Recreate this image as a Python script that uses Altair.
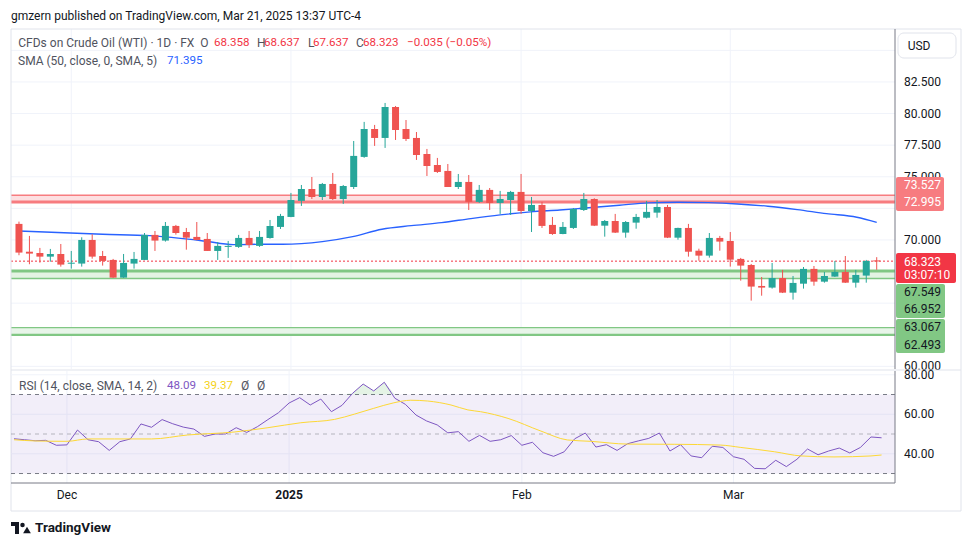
import altair as alt
import pandas as pd

FONT = "Roboto"
GRID = "#f0f3fa"
UP = "#26a69a"
DOWN = "#ef5350"
AXIS_LINE = "#787b86"
TXT = "#131722"

# ---------------- data ----------------
opens = [71.27, 69.07, 68.97, 68.68, 68.89, 68.12, 68.13, 70.00, 68.73, 68.42,
         67.02, 68.13, 68.42, 70.40, 69.95, 71.11, 70.63, 70.24, 70.08, 69.13,
         69.45, 69.45, 70.16, 69.53, 70.16, 71.03, 71.82, 73.09, 74.03, 73.40,
         74.43, 73.24, 74.19, 76.57, 78.78, 78.07, 80.52, 78.78, 78.07, 76.80,
         75.93, 75.46, 74.19, 74.59, 73.01, 73.96, 72.93, 73.16, 73.80, 72.29,
         72.77, 71.19, 70.47, 70.95, 72.37, 73.24, 71.13, 71.50, 70.58, 71.37,
         71.76, 72.16, 72.61, 70.18, 70.95, 69.15, 68.76, 70.16, 69.92, 68.50,
         68.02, 66.36, 66.23, 66.99, 65.83, 66.54, 67.71, 66.70, 67.10, 67.47,
         66.62, 67.18, 68.358]
highs = [71.45, 70.32, 69.37, 69.29, 69.68, 69.13, 70.21, 70.45, 69.13, 68.50,
         68.89, 69.05, 70.55, 70.71, 71.42, 71.19, 70.95, 71.42, 70.55, 69.84,
         69.92, 70.40, 70.71, 70.71, 71.58, 72.06, 73.72, 74.35, 74.98, 74.51,
         75.30, 74.35, 77.83, 79.34, 79.10, 80.84, 80.60, 79.49, 78.54, 77.20,
         76.49, 76.01, 75.22, 75.14, 74.35, 74.11, 73.88, 73.88, 75.22, 73.40,
         73.01, 71.82, 71.42, 72.53, 73.72, 73.30, 71.58, 72.06, 71.50, 72.06,
         73.09, 73.16, 72.77, 70.97, 71.27, 69.31, 70.55, 70.32, 70.63, 68.58,
         68.10, 67.07, 68.18, 67.63, 67.15, 67.86, 67.94, 67.47, 68.34, 68.73,
         67.63, 68.42, 68.637]
lows = [68.79, 68.08, 68.20, 68.28, 67.89, 67.73, 67.89, 68.52, 67.97, 67.00,
        67.00, 67.73, 68.40, 69.13, 69.87, 70.42, 69.23, 69.97, 69.13, 68.42,
        68.58, 69.37, 69.37, 69.45, 70.10, 70.87, 71.80, 72.69, 73.24, 73.16,
        73.16, 72.85, 74.03, 76.50, 77.44, 77.28, 77.91, 77.83, 76.33, 75.06,
        75.30, 74.19, 74.03, 72.37, 72.93, 72.37, 72.06, 71.98, 72.06, 70.63,
        70.95, 70.40, 70.45, 70.87, 72.29, 71.10, 70.26, 70.55, 70.18, 70.89,
        71.70, 71.76, 70.15, 70.02, 68.68, 68.36, 68.60, 69.15, 67.89, 66.78,
        65.20, 65.59, 66.15, 65.80, 65.28, 66.15, 66.38, 66.62, 67.07, 66.60,
        66.23, 66.62, 67.637]
closes = [69.00, 68.92, 68.68, 68.89, 68.05, 68.20, 70.00, 68.68, 68.34, 67.02,
          68.18, 68.50, 70.40, 69.95, 71.11, 70.55, 70.18, 70.00, 69.13, 69.53,
          69.53, 70.16, 69.60, 70.24, 71.11, 71.90, 73.16, 74.03, 73.40, 74.43,
          73.24, 74.27, 76.65, 78.78, 78.07, 80.52, 78.70, 77.99, 76.72, 75.85,
          75.38, 74.19, 74.59, 73.01, 73.96, 72.93, 73.24, 73.80, 72.29, 72.77,
          71.11, 70.47, 71.03, 72.45, 73.24, 71.13, 71.50, 70.58, 71.42, 71.82,
          72.22, 72.61, 70.18, 70.95, 69.07, 68.76, 70.16, 69.87, 68.44, 67.97,
          66.31, 66.23, 66.99, 65.83, 66.60, 67.71, 66.70, 67.15, 67.47, 66.62,
          67.23, 68.34, 68.323]

x_ticks = [5, 26, 48, 68]
x_labels = ["Dec", "2025", "Feb", "Mar"]
x_bold = [False, True, False, False]
price_grid = [60.0, 62.5, 65.0, 67.5, 70.0, 72.5, 75.0, 77.5, 80.0, 82.5, 85.0]
price_labels = [60.0, 70.0, 75.0, 77.5, 80.0, 82.5]   # the others are hidden behind price tags
rsi_ticks = [40, 60, 80]

sma_idx = [0, 8, 12.5, 17.7, 20.5, 23.3, 25.2, 29, 31.9, 34.7, 37.5, 40.4, 43.2,
           46, 48.9, 51.7, 53.6, 57.4, 60.2, 63, 65.9, 68.7, 71.6, 74.4, 77.2, 80.1, 82]
sma_val = [70.71, 70.45, 70.34, 69.92, 69.63, 69.66, 69.66, 69.87, 70.26, 70.85, 71.13,
           71.37, 71.69, 71.98, 72.22, 72.37, 72.49, 72.75, 72.93, 72.98, 72.95, 72.85,
           72.67, 72.40, 72.08, 71.80, 71.395]

rsi_val = [47.6, 47.1, 46.6, 46.8, 44.3, 44.5, 52.0, 47.1, 46.1, 41.7,
           46.1, 47.5, 55.1, 53.4, 57.3, 55.2, 53.5, 52.5, 48.8, 50.0,
           50.0, 53.2, 50.8, 53.7, 57.3, 60.8, 65.7, 68.4, 64.7, 67.7,
           61.3, 64.5, 70.6, 75.3, 71.8, 76.2, 68.1, 65.0, 59.6, 56.6,
           54.6, 50.6, 51.2, 46.3, 49.3, 46.3, 47.1, 49.2, 44.3, 45.8,
           40.5, 38.7, 41.0, 47.6, 50.5, 43.4, 44.6, 41.7, 45.1, 46.5,
           47.8, 50.5, 41.4, 44.6, 38.9, 38.0, 43.8, 43.2, 38.5, 37.2,
           32.6, 32.4, 36.7, 33.5, 37.2, 42.4, 39.5, 41.4, 42.9, 40.4,
           43.2, 48.5, 48.09]

rsima_idx = [0, 2, 5, 7, 9.5, 13, 16.4, 20.8, 24, 27.1, 30.3, 32.2, 34, 35.9, 37.5,
             39.1, 41.3, 42.9, 44.1, 46.7, 49.8, 52.3, 54.5, 58, 62.4, 66.8, 68.7,
             71.9, 74.4, 77.5, 81, 82]
rsima_val = [47.1, 46.5, 46.3, 47.5, 47.5, 47.5, 49.5, 51.0, 53.2, 55.7, 57.4, 60.1,
             63.0, 65.8, 67.1, 66.7, 64.7, 62.2, 61.3, 57.9, 51.5, 47.0, 46.3, 44.9,
             44.8, 44.4, 43.2, 41.0, 38.9, 38.4, 38.9, 39.37]

zone_top = [73.527, 67.549, 63.067]
zone_bot = [72.995, 66.952, 62.493]
last_price = 68.323

# ---------------- geometry ----------------
W = 884
H_MAIN = 340
H_RSI = 112
xs = alt.Scale(domain=[-0.284, 83.27], nice=False, zero=False)
ys = alt.Scale(domain=[59.79, 86.69], nice=False, zero=False)
rs = alt.Scale(domain=[25.2, 81.9], nice=False, zero=False)

n = len(opens)
bt, bb = [], []
for o, c in zip(opens, closes):
    hi, lo = max(o, c), min(o, c)
    if hi - lo < 0.08:
        m = (hi + lo) / 2
        hi, lo = m + 0.04, m - 0.04
    bt.append(hi)
    bb.append(lo)
candles = pd.DataFrame({
    "idx": list(range(n)), "open": opens, "high": highs, "low": lows, "close": closes,
    "btop": bt, "bbot": bb,
    "dir": ["up" if c >= o else "down" for o, c in zip(opens, closes)],
})
col = alt.Color("dir:N", scale=alt.Scale(domain=["up", "down"], range=[UP, DOWN]), legend=None)
one = pd.DataFrame({"a": [0]})


def txt(s, x, y, color, size=12, weight="normal", align="left", font=FONT):
    return alt.Chart(one).mark_text(text=s, align=align, baseline="middle", fontSize=size,
                                    font=font, color=color, fontWeight=weight).encode(
        x=alt.value(x), y=alt.value(y))


def hrule(y, x1, x2, color, w=1):
    return alt.Chart(one).mark_rule(color=color, strokeWidth=w).encode(
        x=alt.value(x1), x2=alt.value(x2), y=alt.value(y))


def vrule(x, y1, y2, color, w=1):
    return alt.Chart(one).mark_rule(color=color, strokeWidth=w).encode(
        x=alt.value(x), y=alt.value(y1), y2=alt.value(y2))


NOX = alt.X("idx:Q", scale=xs, axis=None)


def hgrid(vals, scale):
    return alt.Chart(pd.DataFrame({"v": vals})).mark_rule(color=GRID, strokeWidth=1).encode(
        x=alt.value(0), x2=alt.value(W), y=alt.Y("v:Q", scale=scale, axis=None))


def vgrid(h):
    return alt.Chart(pd.DataFrame({"idx": x_ticks})).mark_rule(color=GRID, strokeWidth=1).encode(
        x=NOX, y=alt.value(0), y2=alt.value(h))


def ylabels(vals, fmt, scale):
    df = pd.DataFrame({"v": vals, "t": [format(v, fmt) for v in vals]})
    return alt.Chart(df).mark_text(align="left", baseline="middle", fontSize=12, font=FONT,
                                   color=TXT).encode(
        x=alt.value(893), y=alt.Y("v:Q", scale=scale, axis=None), text="t:N")


# ---------------- main pane ----------------
anchor = alt.Chart(one).mark_point(opacity=0, size=1).encode(x=alt.value(-2), y=alt.value(-20))
frame = [hrule(0, 0, 950, "#e0e3eb"), hrule(482, 0, 950, "#e0e3eb"),
         vrule(0, 0, 482, "#e0e3eb"), vrule(950, 0, 482, "#e0e3eb"),
         hrule(341, 0, 950, "#e0e3eb"), vrule(W, 0, H_MAIN, AXIS_LINE)]

zones = pd.DataFrame({"top": zone_top, "bot": zone_bot,
                      "fill": ["#fddfe1", "#e4f3e3", "#e8f5e9"]})
zone_fill = alt.Chart(zones).mark_rect().encode(
    x=alt.value(0), x2=alt.value(W),
    y=alt.Y("top:Q", scale=ys, axis=None), y2="bot:Q",
    color=alt.Color("fill:N", scale=None))
zl = pd.DataFrame({
    "p": [zone_top[0], zone_bot[0], zone_top[1], zone_bot[1], zone_top[2], zone_bot[2]],
    "c": ["#f77c80", "#f77c80", "#81c784", "#81c784", "#81c784", "#81c784"],
    "w": [1.5, 3, 3, 1.5, 1.2, 2.2],
})
zone_lines = alt.Chart(zl).mark_rule().encode(
    x=alt.value(0), x2=alt.value(W),
    y=alt.Y("p:Q", scale=ys, axis=None),
    color=alt.Color("c:N", scale=None),
    strokeWidth=alt.StrokeWidth("w:Q", scale=None))

price_line = alt.Chart(pd.DataFrame({"p": [last_price]})).mark_rule(
    color="#f23645", strokeDash=[2, 2], strokeWidth=1).encode(
    x=alt.value(0), x2=alt.value(W), y=alt.Y("p:Q", scale=ys, axis=None))

sma = alt.Chart(pd.DataFrame({"idx": sma_idx, "v": sma_val})).mark_line(
    color="#2962ff", strokeWidth=1.4, interpolate="monotone").encode(
    x=NOX, y=alt.Y("v:Q", scale=ys, axis=None))

wicks = alt.Chart(candles).mark_rule(strokeWidth=1).encode(
    x=NOX, y=alt.Y("low:Q", scale=ys, axis=None), y2="high:Q", color=col)
bodies = alt.Chart(candles).mark_bar(size=7).encode(
    x=NOX, y=alt.Y("bbot:Q", scale=ys, axis=None), y2="btop:Q", color=col)


def box(p1, p2, off1, off2, fill, x2):
    return alt.Chart(pd.DataFrame({"a": [p1], "b": [p2]})).mark_rect(
        fill=fill, cornerRadius=2, yOffset=off1, y2Offset=off2).encode(
        x=alt.value(885), x2=alt.value(x2),
        y=alt.Y("a:Q", scale=ys, axis=None), y2="b:Q")


def plabel(p, s, dy, color, weight="normal"):
    return alt.Chart(pd.DataFrame({"p": [p]})).mark_text(
        text=s, align="left", baseline="middle", dy=dy, fontSize=12, font=FONT,
        color=color, fontWeight=weight).encode(
        x=alt.value(893), y=alt.Y("p:Q", scale=ys, axis=None))


boxes = [
    box(zone_top[0], zone_bot[0], -18.4, 8.9, "#f77c80", 933),
    plabel(zone_top[0], "73.527", -9.9, "white"),
    plabel(zone_bot[0], "72.995", 0.4, "white"),
    box(last_price, last_price, -8.1, 21.9, "#f23645", 945),
    plabel(last_price, "68.323", 0.6, "white"),
    plabel(last_price, "03:07:10", 14.2, "white"),
    box(zone_top[1], zone_bot[1], 13.1, 39.5, "#81c784", 934),
    plabel(zone_top[1], "67.549", 21.1, TXT),
    plabel(zone_bot[1], "66.952", 30.8, TXT),
    box(zone_top[2], zone_bot[2], -8.6, 18.2, "#81c784", 934),
    plabel(zone_top[2], "63.067", -0.6, TXT),
    plabel(zone_bot[2], "62.493", 10.2, TXT),
]

usd_box = alt.Chart(one).mark_rect(fill="white", stroke="#e0e3eb", cornerRadius=6).encode(
    x=alt.value(887), x2=alt.value(945), y=alt.value(4), y2=alt.value(29))

GRAY = "#50535e"
RED = "#f23645"
header = [
    txt("gmzern published on TradingView.com, Mar 21, 2025 13:37 UTC-4", 0, -13, TXT, 12),
    txt("CFDs on Crude Oil (WTI) · 1D · FX", 7.3, 14, GRAY),
    txt("O", 189.3, 14, GRAY), txt("68.358", 203, 14, RED, 11.6),
    txt("H", 246, 14, GRAY), txt("68.637", 253, 14, RED, 11.6),
    txt("L", 297, 14, GRAY), txt("67.637", 302, 14, RED, 11.6),
    txt("C", 345, 14, GRAY), txt("68.323", 352, 14, RED, 11.6),
    txt("\u22120.035 (\u22120.05%)", 396, 14, RED, 11.6),
    txt("SMA (50, close, 0, SMA, 5)", 7, 31.5, GRAY),
    txt("71.395", 156, 31.5, "#2962ff", 11.6),
    txt("USD", 896.7, 16.7, TXT),
    txt("TradingView", 24, 499, TXT, 13.5, "bold"),
]
logo = [
    alt.Chart(one).mark_rect(color=TXT).encode(
        x=alt.value(0), x2=alt.value(8), y=alt.value(493), y2=alt.value(497)),
    alt.Chart(one).mark_rect(color=TXT).encode(
        x=alt.value(4), x2=alt.value(8), y=alt.value(493), y2=alt.value(505)),
    alt.Chart(one).mark_point(shape="circle", filled=True, size=20, color=TXT, opacity=1).encode(
        x=alt.value(11.5), y=alt.value(496)),
    alt.Chart(one).mark_point(shape="triangle-up", filled=True, size=60, color=TXT, opacity=1).encode(
        x=alt.value(16), y=alt.value(501)),
]

main = alt.layer(anchor, hgrid(price_grid, ys), vgrid(H_MAIN), ylabels(price_labels, ".3f", ys),
                 zone_fill, zone_lines, price_line, sma, wicks, bodies,
                 *boxes, usd_box, *frame, *header, *logo).properties(width=W, height=H_MAIN)

# ---------------- RSI pane ----------------
rsi_df = pd.DataFrame({"idx": list(range(n)), "rsi": rsi_val,
                       "hi": [max(v, 70) for v in rsi_val], "base": [70] * n})
band = alt.Chart(pd.DataFrame({"t": [70], "b": [30]})).mark_rect(
    color="#7e57c2", opacity=0.1).encode(
    x=alt.value(0), x2=alt.value(W), y=alt.Y("t:Q", scale=rs, axis=None), y2="b:Q")
levels = alt.Chart(pd.DataFrame({"v": [70, 30]})).mark_rule(
    color=AXIS_LINE, strokeDash=[4, 4], strokeWidth=1).encode(
    x=alt.value(0), x2=alt.value(W), y=alt.Y("v:Q", scale=rs, axis=None))
mid = alt.Chart(pd.DataFrame({"v": [50]})).mark_rule(
    color=AXIS_LINE, strokeDash=[4, 4], strokeWidth=1, opacity=0.5).encode(
    x=alt.value(0), x2=alt.value(W), y=alt.Y("v:Q", scale=rs, axis=None))
ob = alt.Chart(rsi_df).mark_area(color="#4caf50", opacity=0.15).encode(
    x=NOX, y=alt.Y("hi:Q", scale=rs, axis=None), y2="base:Q")
rsi_line = alt.Chart(rsi_df).mark_line(color="#7e57c2", strokeWidth=1).encode(
    x=NOX, y=alt.Y("rsi:Q", scale=rs, axis=None))
rsi_ma = alt.Chart(pd.DataFrame({"idx": rsima_idx, "v": rsima_val})).mark_line(
    color="#fdd835", strokeWidth=1, interpolate="monotone").encode(
    x=NOX, y=alt.Y("v:Q", scale=rs, axis=None))

xl = pd.DataFrame({"idx": x_ticks, "t": x_labels, "b": x_bold})
xlab_norm = alt.Chart(xl[~xl["b"]]).mark_text(
    align="center", baseline="middle", fontSize=12, font=FONT, color=TXT).encode(
    x=NOX, y=alt.value(H_RSI + 12), text="t:N")
xlab_bold = alt.Chart(xl[xl["b"]]).mark_text(
    align="center", baseline="middle", fontSize=12, font=FONT, color=TXT, fontWeight="bold").encode(
    x=NOX, y=alt.value(H_RSI + 12), text="t:N")

rsi_head = [
    txt("RSI (14, close, SMA, 14, 2)", 8, 15, GRAY),
    txt("48.09", 156, 15, "#7e57c2", 11.6),
    txt("39.37", 193, 15, "#f5d31a", 11.6),
    txt("\u00d8", 230, 15, GRAY),
    txt("\u00d8", 246, 15, GRAY),
]

rsi = alt.layer(hgrid(rsi_ticks, rs), vgrid(H_RSI), ylabels(rsi_ticks, ".2f", rs),
                band, mid, levels, ob, rsi_line, rsi_ma,
                vrule(W, 0, H_RSI, AXIS_LINE), hrule(H_RSI, 0, W, AXIS_LINE),
                xlab_norm, xlab_bold, *rsi_head).properties(width=W, height=H_RSI)

chart = alt.vconcat(main, rsi, spacing=2, bounds="flush").properties(
    padding={"left": 0, "top": 0, "right": 0, "bottom": 0}
).configure_view(strokeWidth=0)

chart.save("out.html", embed_options={"renderer": "svg", "actions": False})
